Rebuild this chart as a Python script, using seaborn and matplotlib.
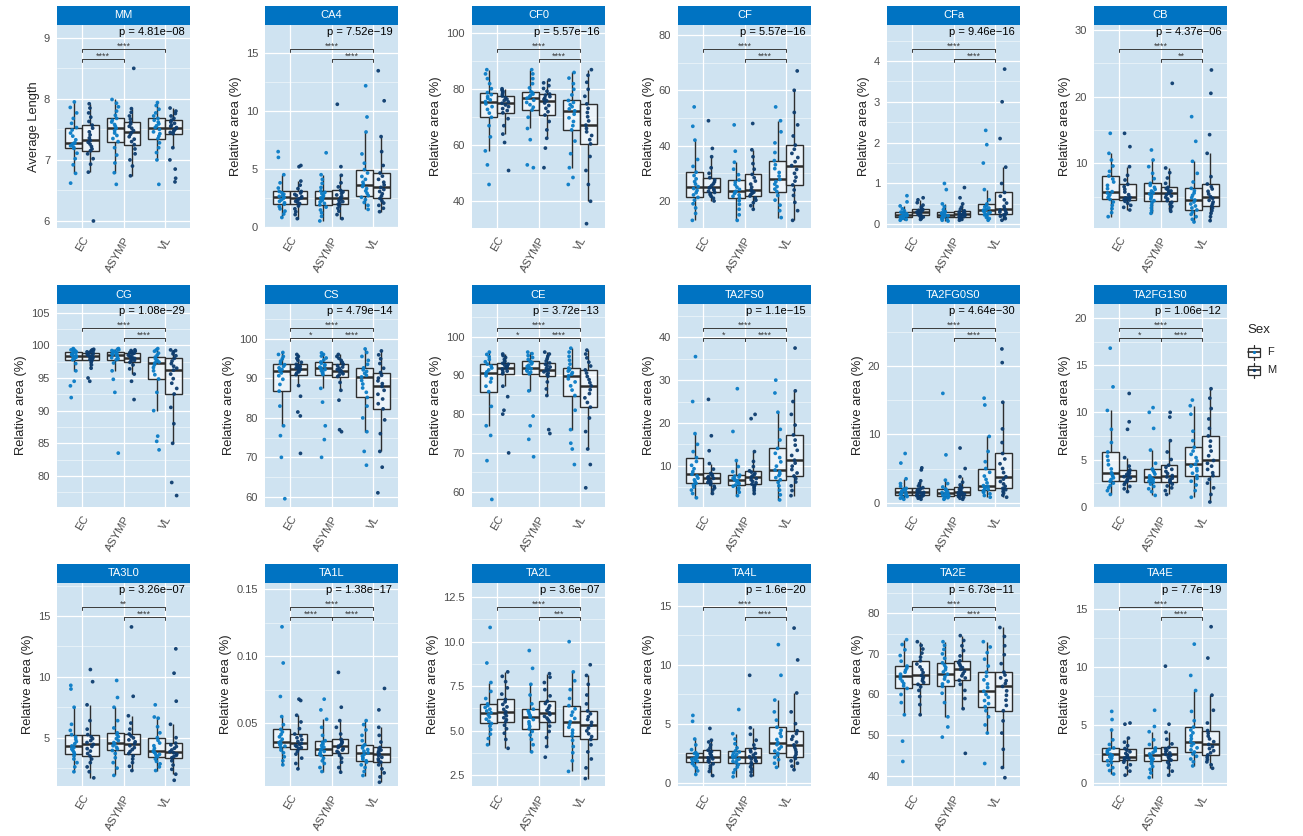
import numpy as np
import pandas as pd
import matplotlib
matplotlib.use("Agg")
import matplotlib.pyplot as plt
import seaborn as sns
from matplotlib.patches import Rectangle
from matplotlib.lines import Line2D
from matplotlib.ticker import MultipleLocator, FormatStrFormatter
from matplotlib.transforms import blended_transform_factory

# ---------------------------------------------------------------- data
GROUPS = ["EC", "ASYMP", "VL"]
SEXES = ["F", "M"]

MM = {
    "EC F": [6.62, 6.78, 6.92, 7.02, 7.11, 7.19, 7.21, 7.23, 7.25, 7.27, 7.28, 7.33, 7.39, 7.44, 7.49, 7.53, 7.6, 7.68, 7.77, 7.86, 7.95],
    "EC M": [6.0, 6.8, 6.93, 7.02, 7.1, 7.15, 7.18, 7.22, 7.26, 7.29, 7.32, 7.36, 7.41, 7.46, 7.52, 7.57, 7.63, 7.7, 7.77, 7.85, 7.92],
    "ASYMP F": [6.6, 6.79, 6.95, 7.08, 7.2, 7.3, 7.35, 7.4, 7.44, 7.48, 7.52, 7.55, 7.58, 7.62, 7.65, 7.68, 7.73, 7.8, 7.87, 7.93, 7.99],
    "ASYMP M": [6.74, 6.9, 7.0, 7.1, 7.18, 7.25, 7.3, 7.34, 7.38, 7.42, 7.45, 7.48, 7.52, 7.55, 7.59, 7.62, 7.67, 7.72, 7.78, 7.84, 8.5],
    "VL F": [6.6, 7.0, 7.12, 7.2, 7.28, 7.35, 7.39, 7.43, 7.46, 7.5, 7.53, 7.56, 7.59, 7.62, 7.65, 7.68, 7.72, 7.77, 7.83, 7.89, 7.94],
    "VL M": [6.64, 6.7, 6.85, 7.0, 7.2, 7.43, 7.45, 7.47, 7.49, 7.51, 7.53, 7.55, 7.57, 7.6, 7.62, 7.65, 7.68, 7.72, 7.76, 7.8, 7.85],
}
CA4 = {
    "EC F": [0.8, 1.1, 1.35, 1.55, 1.75, 1.95, 2.07, 2.2, 2.32, 2.44, 2.55, 2.63, 2.72, 2.82, 2.93, 3.05, 3.35, 3.8, 4.5, 6.0, 6.5],
    "EC M": [0.7, 1.05, 1.3, 1.55, 1.8, 2.0, 2.1, 2.2, 2.3, 2.4, 2.5, 2.6, 2.7, 2.8, 2.92, 3.05, 3.3, 3.6, 3.95, 5.2, 5.3],
    "ASYMP F": [0.5, 0.9, 1.2, 1.45, 1.7, 1.9, 2.02, 2.15, 2.27, 2.39, 2.5, 2.61, 2.73, 2.85, 2.97, 3.1, 3.4, 3.75, 4.1, 4.5, 6.4],
    "ASYMP M": [0.7, 1.05, 1.35, 1.6, 1.8, 1.95, 2.06, 2.17, 2.28, 2.39, 2.5, 2.62, 2.75, 2.88, 3.01, 3.15, 3.45, 3.8, 4.45, 5.2, 10.6],
    "VL F": [1.5, 1.85, 2.1, 2.35, 2.55, 2.7, 2.9, 3.1, 3.3, 3.48, 3.65, 3.85, 4.1, 4.35, 4.65, 4.95, 5.5, 6.3, 8.2, 9.5, 12.2],
    "VL M": [1.3, 1.6, 1.85, 2.05, 2.25, 2.45, 2.65, 2.85, 3.05, 3.22, 3.4, 3.62, 3.85, 4.1, 4.38, 4.65, 5.3, 6.5, 7.8, 10.9, 13.5],
}
CF0 = {
    "EC F": [46, 53, 58, 63, 67, 70.0, 71.5, 72.8, 73.8, 74.8, 75.6, 76.2, 76.8, 77.4, 78.1, 78.8, 80.2, 82, 83.8, 85.5, 87],
    "EC M": [51, 61, 64, 67, 69.5, 71.6, 72.4, 73.1, 73.8, 74.4, 75.0, 75.5, 76.0, 76.5, 77.0, 77.6, 78.2, 78.8, 79.3, 79.7, 80.2],
    "ASYMP F": [52, 53, 62, 66, 70, 72.6, 73.6, 74.5, 75.3, 76.1, 76.8, 77.3, 77.8, 78.3, 78.7, 79.2, 80.5, 82, 83.8, 85.5, 87],
    "ASYMP M": [52, 59, 62.5, 65.5, 68.5, 70.8, 72, 73.2, 74.2, 75.1, 75.9, 76.4, 76.9, 77.4, 77.9, 78.3, 79.3, 80.3, 81.3, 82.3, 83.3],
    "VL F": [46, 48.5, 52, 57, 61.5, 65.5, 67, 68.5, 69.8, 71.1, 72.3, 73.0, 73.8, 74.5, 75.3, 76.0, 78, 80, 82, 84, 86],
    "VL M": [32, 40, 46, 51, 56, 60.5, 62, 63.5, 64.8, 66, 67.2, 68.7, 70.2, 71.7, 73.2, 74.8, 77.5, 80, 82.5, 85, 87],
}
CF = {
    "EC F": [13, 15.5, 17.5, 19, 20.3, 21.3, 22.2, 23, 23.8, 24.5, 25.2, 26.1, 27, 28, 29.2, 30.4, 32.5, 35, 42, 47, 54],
    "EC M": [20, 21, 21.7, 22.3, 22.7, 23.1, 23.5, 23.9, 24.3, 24.7, 25.0, 25.6, 26.2, 26.9, 27.6, 28.4, 30, 32, 36, 39, 49],
    "ASYMP F": [13, 15, 17, 18.8, 20.1, 21.2, 21.7, 22.2, 22.7, 23.1, 23.5, 24.2, 25, 25.9, 26.8, 27.6, 29.5, 31.5, 34, 38, 47.5],
    "ASYMP M": [17, 18.3, 19.4, 20.3, 21.1, 21.8, 22.3, 22.8, 23.2, 23.6, 24.0, 25, 26.1, 27.2, 28.4, 29.6, 31.5, 33.5, 36, 38.5, 48],
    "VL F": [14, 16.5, 18.5, 20.3, 22, 23.4, 24.3, 25.2, 26.1, 27, 27.8, 29, 30.3, 31.7, 33.1, 34.6, 37.5, 41, 45, 49, 54],
    "VL M": [13, 16.5, 19.5, 22, 24, 25.8, 27.2, 28.6, 30, 31.4, 32.8, 34.2, 35.7, 37.2, 38.7, 40.2, 43.5, 47.5, 52, 60, 67],
}
CFa = {
    "EC F": [0.1, 0.12, 0.13, 0.15, 0.16, 0.17, 0.18, 0.19, 0.2, 0.21, 0.22, 0.23, 0.25, 0.26, 0.28, 0.3, 0.33, 0.38, 0.45, 0.55, 0.7],
    "EC M": [0.12, 0.14, 0.16, 0.18, 0.2, 0.22, 0.24, 0.25, 0.27, 0.28, 0.3, 0.31, 0.33, 0.34, 0.36, 0.38, 0.42, 0.47, 0.53, 0.6, 0.65],
    "ASYMP F": [0.08, 0.1, 0.12, 0.14, 0.16, 0.17, 0.19, 0.2, 0.21, 0.23, 0.24, 0.25, 0.26, 0.28, 0.29, 0.31, 0.36, 0.43, 0.5, 0.85, 1.0],
    "ASYMP M": [0.1, 0.12, 0.14, 0.16, 0.18, 0.19, 0.2, 0.22, 0.23, 0.25, 0.26, 0.27, 0.28, 0.3, 0.31, 0.33, 0.37, 0.42, 0.5, 0.65, 0.9],
    "VL F": [0.1, 0.14, 0.17, 0.2, 0.23, 0.25, 0.27, 0.29, 0.31, 0.33, 0.35, 0.37, 0.4, 0.43, 0.46, 0.5, 0.6, 0.85, 1.5, 1.95, 2.3],
    "VL M": [0.1, 0.14, 0.17, 0.2, 0.23, 0.25, 0.28, 0.3, 0.33, 0.35, 0.38, 0.44, 0.52, 0.6, 0.69, 0.78, 1.0, 1.4, 2.1, 3.0, 3.8],
}
CB = {
    "EC F": [2, 2.6, 3.2, 3.7, 4.2, 4.6, 4.85, 5.1, 5.3, 5.55, 5.75, 6.2, 6.7, 7.2, 7.65, 8.1, 8.8, 9.6, 10.5, 11.5, 14.5],
    "EC M": [3, 3.4, 3.7, 4.0, 4.3, 4.5, 4.58, 4.66, 4.74, 4.82, 4.9, 5.3, 5.7, 6.1, 6.5, 6.85, 7.5, 8.2, 9.5, 12.5, 14.5],
    "ASYMP F": [2.5, 2.9, 3.3, 3.7, 4.1, 4.4, 4.65, 4.9, 5.15, 5.4, 5.6, 5.85, 6.1, 6.4, 6.7, 7.0, 7.7, 8.5, 9.5, 10.5, 12],
    "ASYMP M": [2.8, 3.2, 3.55, 3.85, 4.15, 4.4, 4.65, 4.9, 5.1, 5.3, 5.5, 5.7, 5.85, 6.0, 6.2, 6.4, 7.0, 7.8, 8.6, 9.3, 22],
    "VL F": [1.2, 1.6, 2.0, 2.35, 2.7, 3.0, 3.3, 3.6, 3.9, 4.2, 4.5, 4.85, 5.2, 5.55, 5.9, 6.25, 7.2, 8.5, 10.3, 13.3, 17],
    "VL M": [1.4, 2.0, 2.5, 2.9, 3.3, 3.6, 3.9, 4.2, 4.45, 4.75, 5.0, 5.4, 5.8, 6.15, 6.5, 6.9, 8.0, 11.5, 14.3, 20.5, 24],
}
CG = {
    "EC F": [92, 93.8, 94.5, 96.1, 97.2, 97.8, 97.95, 98.1, 98.2, 98.3, 98.4, 98.5, 98.6, 98.7, 98.85, 99.0, 99.1, 99.2, 99.3, 99.4, 99.5],
    "EC M": [94.5, 95, 96.5, 97.0, 97.4, 97.7, 97.85, 98.0, 98.1, 98.2, 98.3, 98.4, 98.5, 98.6, 98.75, 98.9, 99.0, 99.1, 99.2, 99.3, 99.4],
    "ASYMP F": [83.5, 92.8, 94.8, 96.1, 97.3, 97.8, 97.95, 98.1, 98.25, 98.4, 98.5, 98.6, 98.7, 98.8, 98.9, 99.0, 99.1, 99.2, 99.3, 99.4, 99.5],
    "ASYMP M": [91.7, 94.5, 95.6, 96.4, 97.0, 97.4, 97.55, 97.7, 97.85, 98.0, 98.1, 98.2, 98.35, 98.5, 98.65, 98.8, 98.9, 99.0, 99.1, 99.2, 99.3],
    "VL F": [84, 85.3, 86.1, 90, 92.8, 94.85, 95.5, 96.1, 96.6, 97.0, 97.3, 97.45, 97.6, 97.75, 97.95, 98.2, 98.5, 98.8, 99.1, 99.3, 99.5],
    "VL M": [77, 79, 85, 88, 90.5, 92.55, 93.4, 94.2, 94.9, 95.6, 96.2, 96.5, 96.8, 97.2, 97.6, 98.0, 98.4, 98.7, 99.0, 99.2, 99.3],
}
CS = {
    "EC F": [59.5, 70, 75.5, 78, 83, 86.8, 88.5, 89.8, 90.7, 91.4, 92.0, 92.3, 92.7, 93.1, 93.5, 93.8, 94.4, 95, 95.6, 96.1, 96.6],
    "EC M": [71, 80.5, 81.5, 85.5, 88.2, 91.0, 91.4, 91.7, 92.0, 92.3, 92.5, 92.7, 92.9, 93.1, 93.35, 93.6, 94.1, 94.6, 95.1, 95.6, 96.1],
    "ASYMP F": [70, 74.5, 78, 84, 87.5, 91.0, 91.4, 91.7, 92.0, 92.3, 92.6, 92.9, 93.2, 93.5, 93.85, 94.2, 94.7, 95.2, 95.7, 96.1, 96.5],
    "ASYMP M": [76.5, 77, 84.5, 87, 89, 90.5, 90.9, 91.2, 91.5, 91.75, 92.0, 92.3, 92.6, 92.9, 93.25, 93.6, 94.1, 94.6, 95.1, 95.6, 96.1],
    "VL F": [68, 71.5, 76.5, 80, 83, 85.2, 86.5, 87.6, 88.6, 89.5, 90.4, 90.8, 91.3, 91.8, 92.2, 92.7, 93.6, 94.6, 95.6, 96.6, 97.5],
    "VL M": [61, 67.5, 71.5, 76, 79.5, 82.3, 83.6, 84.8, 86, 87, 88.0, 88.7, 89.4, 90.1, 90.8, 91.5, 92.6, 93.8, 95, 96, 97],
}
CE = {
    "EC F": [58, 68, 74.5, 77, 82, 85.8, 87.2, 88.3, 89.2, 89.9, 90.5, 90.9, 91.4, 91.9, 92.4, 92.9, 93.5, 94.1, 94.8, 95.4, 96],
    "EC M": [70, 80, 81, 84.5, 87.2, 90.4, 90.8, 91.1, 91.4, 91.65, 91.9, 92.15, 92.4, 92.6, 92.85, 93.1, 93.6, 94.1, 94.6, 95.1, 95.5],
    "ASYMP F": [69, 73.5, 77, 79.5, 86, 90.4, 90.8, 91.1, 91.4, 91.7, 92.0, 92.3, 92.6, 92.95, 93.3, 93.6, 94.1, 94.6, 95.1, 95.6, 96],
    "ASYMP M": [75, 76, 84.8, 86.5, 88.3, 89.8, 90.2, 90.55, 90.9, 91.2, 91.5, 91.8, 92.15, 92.5, 92.85, 93.2, 93.7, 94.3, 94.9, 95.5, 96],
    "VL F": [67, 71, 72.5, 76, 81, 84.8, 86.2, 87.3, 88.3, 89.1, 89.9, 90.3, 90.7, 91.1, 91.5, 91.9, 92.9, 93.9, 94.9, 96, 97],
    "VL M": [61, 67, 71, 75.5, 79, 81.8, 83, 84.2, 85.3, 86.3, 87.3, 88.1, 88.9, 89.7, 90.6, 91.4, 92.4, 93.4, 94.5, 95.5, 96.5],
}
TA2FS0 = {
    "EC F": [2.5, 3.5, 4.3, 5, 5.5, 5.9, 6.3, 6.7, 7.1, 7.6, 8.0, 8.6, 9.3, 10.1, 11.0, 11.9, 13.3, 15, 17.5, 25, 35.5],
    "EC M": [3.5, 4.3, 4.8, 5.2, 5.6, 5.9, 6.1, 6.35, 6.6, 6.85, 7.05, 7.25, 7.45, 7.7, 7.95, 8.2, 9.2, 10.5, 13.5, 17, 25.5],
    "ASYMP F": [3, 3.8, 4.4, 4.8, 5.2, 5.5, 5.75, 6.0, 6.25, 6.5, 6.7, 6.9, 7.1, 7.35, 7.55, 7.8, 8.6, 9.8, 11.2, 18, 28],
    "ASYMP M": [3.5, 4.2, 4.7, 5.1, 5.4, 5.7, 6.0, 6.35, 6.7, 7.0, 7.3, 7.6, 7.9, 8.2, 8.5, 8.8, 9.8, 11, 13.3, 21, 22],
    "VL F": [2, 3.2, 4.3, 5.3, 6.1, 6.7, 7.2, 7.7, 8.1, 8.6, 9.0, 9.9, 10.9, 11.9, 12.9, 14.05, 16, 18.5, 22.5, 27, 30],
    "VL M": [3, 4.2, 5.3, 6.2, 7.0, 7.6, 8.3, 9.1, 9.9, 10.6, 11.3, 12.4, 13.6, 14.8, 16, 17.2, 19.5, 22, 25, 27.5, 37.5],
}
TA2FG0S0 = {
    "EC F": [0.5, 0.65, 0.8, 0.9, 1.0, 1.1, 1.18, 1.26, 1.34, 1.42, 1.5, 1.6, 1.72, 1.85, 1.97, 2.1, 2.4, 2.8, 3.5, 5.8, 7.2],
    "EC M": [0.5, 0.65, 0.8, 0.9, 1.0, 1.1, 1.18, 1.26, 1.34, 1.42, 1.5, 1.62, 1.76, 1.9, 2.05, 2.2, 2.45, 2.8, 3.2, 4.8, 5.1],
    "ASYMP F": [0.5, 0.62, 0.74, 0.84, 0.92, 1.0, 1.08, 1.16, 1.24, 1.32, 1.4, 1.5, 1.62, 1.74, 1.87, 2.0, 2.3, 2.8, 3.3, 7.0, 16],
    "ASYMP M": [0.5, 0.65, 0.8, 0.9, 1.0, 1.1, 1.18, 1.26, 1.34, 1.42, 1.5, 1.65, 1.8, 1.96, 2.13, 2.3, 2.6, 3.0, 3.8, 5.0, 8.0],
    "VL F": [0.8, 1.05, 1.3, 1.5, 1.65, 1.8, 1.95, 2.1, 2.25, 2.38, 2.5, 2.9, 3.4, 3.9, 4.45, 5.0, 6, 7.5, 9.7, 14.3, 15.3],
    "VL M": [0.8, 1.1, 1.4, 1.65, 1.9, 2.1, 2.4, 2.75, 3.1, 3.45, 3.8, 4.4, 5.0, 5.7, 6.4, 7.2, 8.8, 10.8, 14.7, 20.5, 22.5],
}
TA2FG1S0 = {
    "EC F": [1.3, 1.7, 2.0, 2.25, 2.5, 2.7, 2.88, 3.06, 3.24, 3.42, 3.6, 4.0, 4.45, 4.9, 5.35, 5.8, 6.8, 8.2, 10.2, 12.7, 16.8],
    "EC M": [1.6, 1.9, 2.15, 2.35, 2.55, 2.7, 2.82, 2.94, 3.06, 3.18, 3.3, 3.42, 3.54, 3.66, 3.78, 3.9, 4.3, 5.2, 8.2, 9.0, 12],
    "ASYMP F": [1.2, 1.6, 1.9, 2.15, 2.4, 2.6, 2.7, 2.8, 2.9, 3.0, 3.1, 3.28, 3.46, 3.64, 3.82, 4.0, 4.6, 6.0, 8.3, 10, 10.5],
    "ASYMP M": [1.3, 1.7, 2.0, 2.2, 2.4, 2.6, 2.74, 2.88, 3.02, 3.16, 3.3, 3.52, 3.74, 3.96, 4.18, 4.4, 5.0, 5.8, 7.0, 9.5, 10],
    "VL F": [1.0, 1.7, 2.3, 2.7, 3.0, 3.3, 3.55, 3.8, 4.05, 4.3, 4.5, 4.85, 5.2, 5.55, 5.9, 6.3, 7.0, 8.0, 9.8, 10.7, 11.3],
    "VL M": [0.5, 1.3, 2.0, 2.5, 2.9, 3.3, 3.6, 3.95, 4.3, 4.6, 4.9, 5.4, 5.9, 6.4, 6.95, 7.5, 8.3, 9.3, 10.4, 11.5, 12.5],
}
TA3L0 = {
    "EC F": [2.2, 2.6, 2.95, 3.25, 3.5, 3.66, 3.8, 3.93, 4.06, 4.19, 4.32, 4.5, 4.68, 4.87, 5.06, 5.25, 5.6, 6.1, 7.5, 9.0, 9.3],
    "EC M": [1.7, 2.2, 2.6, 2.95, 3.25, 3.5, 3.7, 3.9, 4.1, 4.28, 4.45, 4.6, 4.76, 4.92, 5.08, 5.25, 5.7, 6.4, 7.7, 9.6, 10.6],
    "ASYMP F": [1.9, 2.5, 2.95, 3.35, 3.7, 3.95, 4.08, 4.21, 4.34, 4.47, 4.6, 4.76, 4.92, 5.08, 5.24, 5.4, 5.8, 6.4, 7.5, 8.3, 9.7],
    "ASYMP M": [2.3, 2.65, 2.95, 3.25, 3.5, 3.7, 3.86, 4.02, 4.18, 4.34, 4.5, 4.66, 4.82, 4.98, 5.14, 5.3, 5.7, 6.2, 6.8, 8.4, 14.1],
    "VL F": [2.3, 2.6, 2.85, 3.05, 3.25, 3.45, 3.54, 3.63, 3.72, 3.81, 3.9, 4.12, 4.34, 4.56, 4.78, 5.0, 5.4, 5.9, 6.6, 6.7, 7.7],
    "VL M": [1.5, 2.0, 2.4, 2.75, 3.1, 3.35, 3.45, 3.55, 3.65, 3.75, 3.85, 3.99, 4.13, 4.27, 4.41, 4.55, 5.0, 6.1, 8.0, 10.3, 12.3],
}
TA1L = {
    "EC F": [0.019, 0.022, 0.025, 0.028, 0.030, 0.032, 0.0329, 0.0338, 0.0346, 0.0355, 0.0363, 0.0381, 0.0399, 0.0417, 0.0436, 0.0455, 0.049, 0.055, 0.07, 0.095, 0.122],
    "EC M": [0.016, 0.02, 0.024, 0.027, 0.029, 0.031, 0.0318, 0.0326, 0.0334, 0.0342, 0.035, 0.0364, 0.0378, 0.0392, 0.0406, 0.042, 0.046, 0.051, 0.056, 0.067, 0.068],
    "ASYMP F": [0.014, 0.017, 0.02, 0.022, 0.024, 0.026, 0.027, 0.028, 0.029, 0.030, 0.031, 0.0322, 0.0334, 0.0346, 0.0358, 0.037, 0.041, 0.047, 0.053, 0.06, 0.068],
    "ASYMP M": [0.0135, 0.017, 0.021, 0.024, 0.026, 0.028, 0.029, 0.030, 0.031, 0.032, 0.033, 0.034, 0.035, 0.036, 0.037, 0.038, 0.042, 0.047, 0.052, 0.062, 0.088],
    "VL F": [0.011, 0.014, 0.017, 0.019, 0.021, 0.022, 0.0232, 0.0244, 0.0256, 0.0268, 0.028, 0.0292, 0.0304, 0.0316, 0.0328, 0.034, 0.037, 0.041, 0.045, 0.049, 0.052],
    "VL M": [0.006, 0.01, 0.013, 0.016, 0.019, 0.021, 0.0222, 0.0234, 0.0246, 0.0258, 0.027, 0.028, 0.029, 0.030, 0.031, 0.032, 0.036, 0.041, 0.047, 0.06, 0.076],
}
TA2L = {
    "EC F": [4.2, 4.55, 4.8, 5.05, 5.25, 5.4, 5.52, 5.64, 5.76, 5.88, 6.0, 6.1, 6.2, 6.3, 6.4, 6.5, 6.8, 7.2, 7.7, 8.8, 10.8],
    "EC M": [4.0, 4.5, 4.85, 5.1, 5.3, 5.5, 5.61, 5.72, 5.83, 5.94, 6.05, 6.19, 6.33, 6.47, 6.61, 6.75, 7.05, 7.4, 7.75, 8.05, 8.3],
    "ASYMP F": [3.8, 4.2, 4.5, 4.75, 4.95, 5.1, 5.23, 5.36, 5.49, 5.62, 5.75, 5.84, 5.93, 6.02, 6.11, 6.2, 6.5, 7.0, 7.6, 8.5, 9.5],
    "ASYMP M": [3.5, 4.1, 4.6, 4.95, 5.25, 5.5, 5.6, 5.7, 5.8, 5.9, 6.0, 6.13, 6.26, 6.39, 6.52, 6.65, 6.95, 7.3, 7.7, 8.0, 8.2],
    "VL F": [2.7, 3.3, 3.75, 4.1, 4.45, 4.7, 4.86, 5.02, 5.18, 5.34, 5.5, 5.68, 5.86, 6.04, 6.22, 6.4, 6.8, 7.3, 7.8, 8.3, 10.0],
    "VL M": [2.3, 2.9, 3.4, 3.8, 4.2, 4.5, 4.66, 4.82, 4.98, 5.14, 5.3, 5.46, 5.62, 5.78, 5.94, 6.1, 6.5, 7.0, 7.6, 8.1, 8.7],
}
TA4L = {
    "EC F": [0.7, 1.0, 1.25, 1.45, 1.62, 1.75, 1.83, 1.91, 1.99, 2.07, 2.15, 2.23, 2.31, 2.39, 2.47, 2.55, 2.8, 3.2, 3.7, 5.2, 5.7],
    "EC M": [0.6, 0.95, 1.2, 1.42, 1.6, 1.75, 1.84, 1.93, 2.02, 2.11, 2.2, 2.31, 2.42, 2.53, 2.64, 2.75, 2.95, 3.2, 3.45, 3.6, 4.6],
    "ASYMP F": [0.5, 0.85, 1.1, 1.33, 1.53, 1.7, 1.8, 1.9, 2.0, 2.1, 2.2, 2.3, 2.4, 2.5, 2.6, 2.7, 2.95, 3.3, 3.7, 4.15, 6.2],
    "ASYMP M": [0.6, 0.9, 1.15, 1.35, 1.55, 1.7, 1.8, 1.9, 2.0, 2.1, 2.2, 2.34, 2.48, 2.62, 2.76, 2.9, 3.2, 3.6, 4.1, 4.65, 9.1],
    "VL F": [1.3, 1.65, 1.95, 2.15, 2.35, 2.5, 2.68, 2.86, 3.04, 3.22, 3.4, 3.66, 3.92, 4.18, 4.44, 4.7, 5.3, 6.0, 7.0, 9.1, 11.7],
    "VL M": [1.1, 1.4, 1.65, 1.85, 2.05, 2.2, 2.4, 2.6, 2.8, 3.0, 3.2, 3.44, 3.68, 3.92, 4.16, 4.4, 5.0, 6.0, 7.6, 10.4, 13.1],
}
TA2E = {
    "EC F": [43.5, 48.5, 55, 58, 60, 61.5, 62.1, 62.7, 63.3, 63.9, 64.5, 65.0, 65.5, 66.0, 66.5, 67.0, 68.2, 69.6, 71, 72.3, 73.5],
    "EC M": [55, 57.5, 59.5, 61, 61.9, 62.5, 62.95, 63.4, 63.85, 64.3, 64.7, 65.4, 66.1, 66.8, 67.5, 68.3, 69.2, 70.2, 71.2, 72.1, 73],
    "ASYMP F": [49.5, 52, 54.5, 58, 60.3, 62.0, 62.6, 63.2, 63.8, 64.4, 65.0, 65.55, 66.1, 66.65, 67.2, 67.8, 68.9, 70, 71.1, 72.1, 73],
    "ASYMP M": [45.5, 56.5, 59, 61, 62.5, 63.5, 64.05, 64.6, 65.15, 65.7, 66.2, 66.6, 67.0, 67.4, 67.85, 68.3, 69.5, 70.8, 72, 73.3, 74.5],
    "VL F": [43, 50.5, 52.5, 54.5, 56, 57.0, 57.75, 58.5, 59.3, 60.0, 60.8, 61.7, 62.6, 63.6, 64.5, 65.5, 67, 68.7, 70.3, 71.7, 73],
    "VL M": [39.5, 42, 46.5, 50.5, 53.5, 56.0, 57.3, 58.6, 59.8, 60.9, 62.0, 62.7, 63.4, 64.1, 64.8, 65.5, 67.6, 69.8, 72, 74.3, 76.5],
}
TA4E = {
    "EC F": [0.8, 1.1, 1.35, 1.57, 1.78, 1.95, 2.06, 2.17, 2.28, 2.39, 2.5, 2.61, 2.72, 2.83, 2.94, 3.05, 3.35, 3.75, 4.6, 5.5, 6.2],
    "EC M": [0.7, 1.05, 1.35, 1.6, 1.82, 2.0, 2.06, 2.12, 2.18, 2.24, 2.3, 2.44, 2.58, 2.72, 2.86, 3.0, 3.25, 3.55, 3.9, 5.1, 5.2],
    "ASYMP F": [0.5, 0.9, 1.2, 1.45, 1.7, 1.9, 2.0, 2.1, 2.2, 2.3, 2.4, 2.53, 2.66, 2.79, 2.92, 3.05, 3.35, 3.75, 4.45, 4.9, 6.3],
    "ASYMP M": [0.7, 1.05, 1.35, 1.6, 1.82, 2.0, 2.1, 2.2, 2.3, 2.4, 2.5, 2.62, 2.74, 2.86, 2.98, 3.1, 3.4, 3.8, 4.4, 5.1, 10.1],
    "VL F": [1.5, 1.85, 2.1, 2.33, 2.53, 2.7, 2.88, 3.06, 3.24, 3.42, 3.6, 3.85, 4.1, 4.35, 4.6, 4.85, 5.4, 6.2, 8.0, 9.3, 12.0],
    "VL M": [1.3, 1.6, 1.85, 2.05, 2.25, 2.45, 2.63, 2.81, 2.99, 3.17, 3.35, 3.59, 3.83, 4.07, 4.31, 4.55, 5.2, 6.3, 7.6, 10.8, 13.5],
}

PANELS = ["MM", "CA4", "CF0", "CF", "CFa", "CB",
          "CG", "CS", "CE", "TA2FS0", "TA2FG0S0", "TA2FG1S0",
          "TA3L0", "TA1L", "TA2L", "TA4L", "TA2E", "TA4E"]
PANEL_DATA = [MM, CA4, CF0, CF, CFa, CB,
              CG, CS, CE, TA2FS0, TA2FG0S0, TA2FG1S0,
              TA3L0, TA1L, TA2L, TA4L, TA2E, TA4E]
P_VALUES = ["4.81e-08", "7.52e-19", "5.57e-16", "5.57e-16", "9.46e-16", "4.37e-06",
            "1.08e-29", "4.79e-14", "3.72e-13", "1.1e-15", "4.64e-30", "1.06e-12",
            "3.26e-07", "1.38e-17", "3.6e-07", "1.6e-20", "6.73e-11", "7.7e-19"]

# pairwise tests: (group a, group b, stars, row)  row 0 = upper bracket, 1 = lower
STD2 = [("EC", "VL", "****", 0), ("ASYMP", "VL", "****", 1)]
STD3 = [("EC", "VL", "****", 0), ("EC", "ASYMP", "*", 1), ("ASYMP", "VL", "****", 1)]
COMPARISONS = {
    "MM": [("EC", "VL", "****", 0), ("EC", "ASYMP", "****", 1)],
    "CA4": STD2, "CF0": STD2, "CF": STD2, "CFa": STD2,
    "CB": [("EC", "VL", "****", 0), ("ASYMP", "VL", "**", 1)],
    "CG": STD2, "CS": STD3, "CE": STD3, "TA2FS0": STD3,
    "TA2FG0S0": STD2, "TA2FG1S0": STD3,
    "TA3L0": [("EC", "VL", "**", 0), ("ASYMP", "VL", "****", 1)],
    "TA1L": [("EC", "VL", "****", 0), ("EC", "ASYMP", "****", 1), ("ASYMP", "VL", "****", 1)],
    "TA2L": [("EC", "VL", "****", 0), ("ASYMP", "VL", "***", 1)],
    "TA4L": STD2, "TA2E": STD2, "TA4E": STD2,
}

# y scale per panel: (lower, upper, major step, decimals)
Y_SCALE = {
    "MM": (5.885, 9.21, 1, 0), "CA4": (-0.11, 17.46, 5, 0), "CF0": (30.46, 102.96, 20, 0),
    "CF": (10.24, 83.6, 20, 0), "CFa": (-0.09, 4.88, 1, 0), "CB": (0.3, 30.75, 10, 0),
    "CG": (75.25, 106.33, 5, 0), "CS": (57.4, 108.9, 10, 0), "CE": (56.05, 108.4, 10, 0),
    "TA2FS0": (0.35, 47.8, 10, 0), "TA2FG0S0": (-0.63, 29.08, 10, 0), "TA2FG1S0": (-0.03, 21.48, 5, 0),
    "TA3L0": (1.03, 17.71, 5, 0), "TA1L": (0.0032, 0.1547, 0.05, 2), "TA2L": (1.88, 13.3, 2.5, 1),
    "TA4L": (-0.28, 16.92, 5, 0), "TA2E": (37.46, 87.46, 10, 0), "TA4E": (-0.23, 17.27, 5, 0),
}
Y_TITLES = {p: "Relative area (%)" for p in PANELS}
Y_TITLES["MM"] = "Average Length"

# ---------------------------------------------------------------- tidy frame
rows = []
for panel, table in zip(PANELS, PANEL_DATA):
    for key, values in table.items():
        group, sex = key.split()
        for v in values:
            rows.append((panel, group, sex, v))
df = pd.DataFrame(rows, columns=["panel", "group", "sex", "value"])

# ---------------------------------------------------------------- style
sns.set_style("white")
plt.rcParams["font.family"] = ["Liberation Sans", "DejaVu Sans"]

STRIP_BLUE = "#0073C2"
PANEL_BG = "#CFE3F1"
SEX_COLORS = {"F": "#0A7CC6", "M": "#0D3C6E"}
LINE = "#2E2E2E"
TICK_GREY = "#4D4D4D"

W, H = 1303, 836
fig = plt.figure(figsize=(W / 100, H / 100), dpi=100)
fig.patch.set_facecolor("white")

COL_LEFT = [57, 265, 472, 678, 887, 1094]
ROW_TOP = [25, 304, 583]
PW, PH = 133, 203
STRIP_H = 19

np.random.seed(7)  # reproducible jitter

for i, panel in enumerate(PANELS):
    r, c = divmod(i, 6)
    ax = fig.add_axes([COL_LEFT[c] / W, 1 - (ROW_TOP[r] + PH) / H, PW / W, PH / H])
    sub = df[df["panel"] == panel]

    sns.stripplot(data=sub, x="group", y="value", hue="sex", order=GROUPS,
                  hue_order=SEXES, palette=SEX_COLORS, dodge=True, jitter=0.17,
                  size=2.7, linewidth=0, alpha=0.95, legend=False, ax=ax)
    sns.boxplot(data=sub, x="group", y="value", hue="sex", order=GROUPS,
                hue_order=SEXES, dodge=True, width=0.8, gap=0.0,
                showfliers=False, showcaps=False, linecolor=LINE, linewidth=1.0,
                boxprops=dict(facecolor=(1, 1, 1, 0.6)),
                medianprops=dict(linewidth=1.8), legend=False, ax=ax)

    lo, hi, step, dec = Y_SCALE[panel]
    ax.set_xlim(-0.6, 2.6)
    ax.set_ylim(lo, hi)
    ax.set_facecolor(PANEL_BG)
    ax.yaxis.set_major_locator(MultipleLocator(step))
    ax.yaxis.set_minor_locator(MultipleLocator(step / 2))
    ax.yaxis.set_major_formatter(FormatStrFormatter(f"%.{dec}f"))
    ax.set_axisbelow(True)
    ax.grid(True, which="major", axis="both", color="white", linewidth=0.9)
    ax.grid(True, which="minor", axis="y", color="white", linewidth=0.45, alpha=0.75)
    for s in ax.spines.values():
        s.set_visible(False)

    ax.set_xticks(range(len(GROUPS)))
    ax.set_xticklabels(GROUPS, rotation=60, ha="right", rotation_mode="anchor")
    ax.tick_params(axis="both", which="major", length=2.5, width=0.6, color=TICK_GREY,
                   labelsize=8, labelcolor=TICK_GREY, pad=2.5)
    ax.tick_params(axis="y", which="minor", length=0)
    ax.set_xlabel("")
    ax.set_ylabel(Y_TITLES[panel], fontsize=9.3, color="#222222", labelpad=3)

    # facet strip
    ax.add_patch(Rectangle((0, 1), 1, STRIP_H / PH, transform=ax.transAxes,
                           facecolor=STRIP_BLUE, edgecolor="none", clip_on=False))
    ax.text(0.5, 1 + STRIP_H / PH / 2, panel, transform=ax.transAxes, ha="center",
            va="center", color="white", fontsize=8)

    # global test
    ax.text(0.957, 0.9655, "p = " + P_VALUES[i].replace("-", "\u2212"),
            transform=ax.transAxes, ha="right", va="center", fontsize=8, color="black")

    # pairwise brackets
    trans = blended_transform_factory(ax.transData, ax.transAxes)
    levels = [0.881, 0.832]
    drop = 2.7 / PH
    for a, b, stars, row in COMPARISONS[panel]:
        xa, xb = GROUPS.index(a), GROUPS.index(b)
        yb = levels[row]
        ax.plot([xa, xa, xb, xb], [yb - drop, yb, yb, yb - drop], transform=trans,
                color="#3A3A3A", linewidth=0.7, clip_on=False)
        ax.text((xa + xb) / 2, yb + 0.004, stars, transform=trans, ha="center",
                va="baseline", fontsize=6.5, color="#3A3A3A")

# ---------------------------------------------------------------- legend
lax = fig.add_axes([0, 0, 1, 1], facecolor="none")
lax.set_xlim(0, W)
lax.set_ylim(H, 0)
lax.axis("off")
lax.text(1247, 330, "Sex", fontsize=9.5, color="#222222", ha="left", va="center")
for k, (sex, yc) in enumerate(zip(SEXES, [352, 370])):
    lax.add_patch(Rectangle((1248, yc - 4.5), 12, 9, facecolor="white",
                            edgecolor=LINE, linewidth=0.9))
    lax.add_line(Line2D([1248, 1260], [yc, yc], color=LINE, linewidth=1.2))
    lax.add_line(Line2D([1254, 1254], [yc - 7.5, yc - 4.5], color=LINE, linewidth=0.9))
    lax.add_line(Line2D([1254, 1254], [yc + 4.5, yc + 7.5], color=LINE, linewidth=0.9))
    lax.plot([1254], [yc], marker="o", markersize=2.3, color=SEX_COLORS[sex],
             markeredgewidth=0)
    lax.text(1267, yc, sex, fontsize=8, color="#222222", ha="left", va="center")

fig.savefig("out.png", dpi=100, facecolor="white")
